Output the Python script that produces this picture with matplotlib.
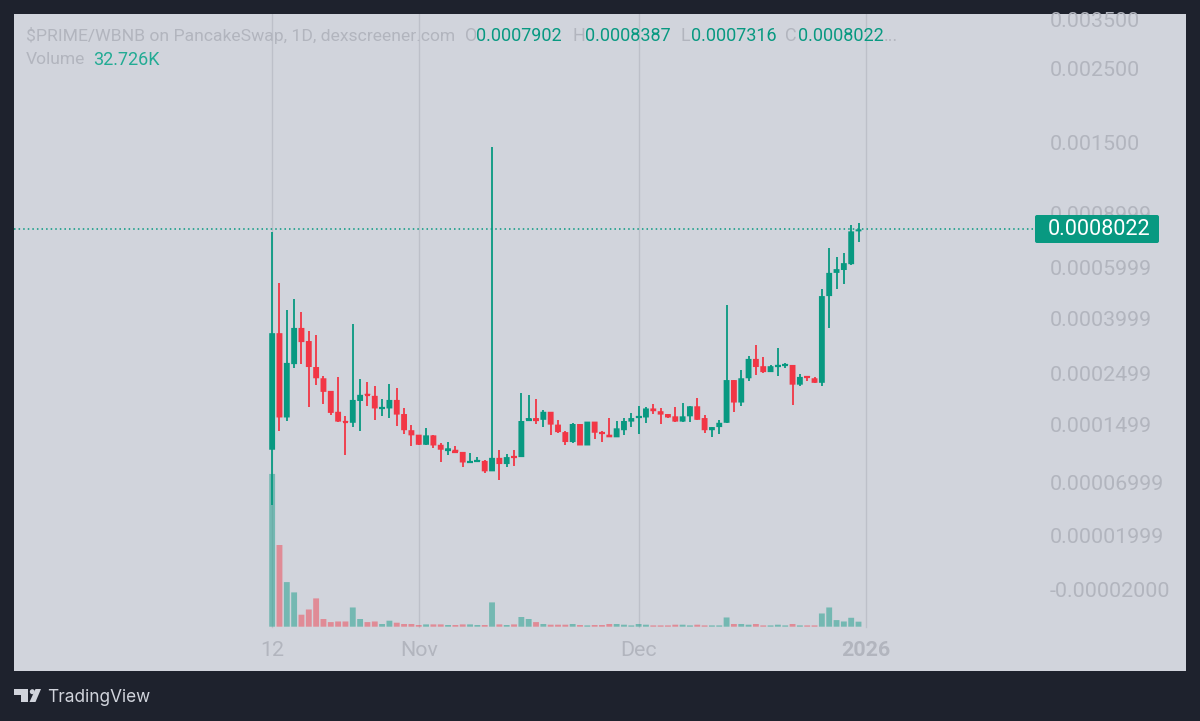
import numpy as np
import matplotlib
matplotlib.use("Agg")
import matplotlib.pyplot as plt
from matplotlib.patches import FancyBboxPatch, Polygon, Circle
from matplotlib.transforms import IdentityTransform

# prices in millionths
highs = [785,533,430,470,423,361,350,243,211,241,163,383,236,230,222,195,226,218,177,149,133,143,133,120,122,116,108,106,101,97,1452,110,105,111,207,203,195,174,171,157,139,152,150,154,154,139,160,155,160,169,182,179,186,177,167,179,188,181,197,166,145,157,448,234,257,291,321,289,269,313,274,269,247,243,241,508,697,652,672,828,838.7]
tops = [355,355,274,371,371,332,264,238,211,171,155,193,203,205,201,179,193,193,167,140,133,132,132,118,113,111,108,95,97,96,100,100,101,102,155,160,160,171,171,149,137,150,150,154,154,137,133,143,155,160,163,177,177,172,167,163,163,181,181,160,145,152,234,234,238,284,284,266,266,269,271,269,241,243,238,481,577,594,622,790.2,802.2]
bots = [111,161,161,271,329,264,238,209,169,154,154,152,191,203,177,177,177,166,140,132,118,118,117,111,111,108,94,94,96,83,83,92,92,101,101,157,157,157,149,137,122,122,117,117,136,136,129,129,140,154,161,161,172,166,161,154,154,163,157,140,140,145,152,188,188,238,264,252,252,266,269,224,224,241,228,228,481,577,590,617,790.2]
lows = [47,139,155,261,271,179,224,186,166,154,104,145,139,181,157,163,160,146,134,116,118,118,114,95,104,106,88,93,94,81,83,73,88,89,101,155,150,145,132,136,117,121,117,117,127,122,129,129,133,145,134,152,167,150,160,154,154,154,157,136,130,134,152,171,182,232,245,250,252,243,261,184,222,232,228,222,371,508,529,613,731.6]
rising = [1,0,1,1,0,0,0,0,0,0,0,1,1,0,0,1,1,0,0,0,0,1,0,0,1,0,0,1,1,0,1,0,1,0,1,1,0,1,0,0,0,1,0,1,0,0,0,1,1,1,1,1,0,0,0,0,1,1,0,0,1,1,1,0,1,1,0,0,1,1,1,0,1,0,0,1,1,1,1,1,1]
volume_k = [993,531,290,223,78,112,184,50,30,34,34,125,50,30,34,17.5,39,26,17.5,17.5,11,15,15,15,11,11,15,15,11,11,158,15,11,15,63,50,30,17.5,13,13,13,17.5,11,8.5,11,11,17.5,17.5,13,8.5,17.5,13,8.5,8.5,8.5,13,13,8.5,13,8.5,8.5,8.5,60,17.5,17.5,13,17.5,8.5,8.5,13,8.5,17.5,8.5,8.5,8.5,86,125,43,34,58,32.7]
last_price = 0.0008022
price_tick_values = [0.0035,0.0025,0.0015,0.0008999,0.0005999,0.0003999,0.0002499,0.0001499,0.00006999,0.00001999,-0.0000163]
price_tick_labels = ["0.003500","0.002500","0.001500","0.0008999","0.0005999","0.0003999","0.0002499","0.0001499","0.00006999","0.00001999","-0.00002000"]
date_ticks = [0,20,50,81]
date_labels = ["12","Nov","Dec","2026"]

GREEN, RED = "#089981", "#F23645"
BG, PANEL = "#1E222D", "#D1D4DC"
GREY = "#B2B5BE"
GRID = "#BDC0C9"
plt.rcParams['font.family'] = ['Roboto', 'DejaVu Sans']

W, H = 1200, 721
fig = plt.figure(figsize=(12, 7.21), dpi=100, facecolor=BG)
L, R, T, B = 14, 1186, 14, 671
rect = [L/W, (H-B)/H, (R-L)/W, (B-T)/H]
vax = fig.add_axes(rect, facecolor=PANEL)
ax = fig.add_axes(rect, facecolor="none")

n = len(highs)
x = np.arange(n)
hi, lo = np.array(highs)*1e-6, np.array(lows)*1e-6
tp, bt = np.array(tops)*1e-6, np.array(bots)*1e-6
up = np.array(rising, dtype=bool)
colors = np.where(up, GREEN, RED)
xlim = (-35.22, 124.68)

# volume pane
vax.set_xlim(xlim)
vax.set_ylim(-(B-626.7)*6.5, (626.7-T)*6.5)
vax.bar(x, volume_k, width=0.8, color=colors, alpha=0.46, linewidth=0, zorder=2, snap=False)
for d in date_ticks:
    vax.axvline(d, ymin=(B-627)/(B-T), color=GRID, lw=1.0, zorder=1)
vax.set_xticks([]); vax.set_yticks([])
for s in vax.spines.values():
    s.set_visible(False)

# price pane
C = 1e-4
ax.set_yscale("function", functions=(lambda v: np.log(np.maximum(v+C, 1e-9)), lambda u: np.exp(u)-C))
ax.set_xlim(xlim)
ax.set_ylim(-50.93e-6, 3630.6e-6)
ax.vlines(x, lo, hi, colors=colors, lw=1.3, zorder=3)
ax.bar(x, tp-bt, bottom=bt, width=0.8, color=colors, linewidth=0, zorder=4, snap=False)
thin = (tp-bt) < 4e-6
ax.hlines(bt[thin], x[thin]-0.4, x[thin]+0.4, colors=colors[thin], lw=1.6, zorder=4)
ax.axhline(last_price, xmax=(1036-L)/(R-L), color=GREEN, lw=1.1, ls=(0, (1, 2)), zorder=2)

ax.yaxis.tick_right()
ax.set_yticks(price_tick_values, price_tick_labels)
ax.minorticks_off()
ax.tick_params(axis="y", length=0, pad=-98, labelsize=15.4, labelcolor=GREY)
ax.set_xticks(date_ticks, date_labels)
ax.tick_params(axis="x", length=0, pad=-21.5, labelsize=15.4, labelcolor=GREY)
ax.get_xticklabels()[-1].set_fontweight("bold")
for s in ax.spines.values():
    s.set_visible(False)

# last price label
fig.add_artist(FancyBboxPatch((1035, H-243), 124, 28, boxstyle="round,pad=0,rounding_size=2",
                              fc=GREEN, ec="none", transform=IdentityTransform(), zorder=5))
fig.text(1048/W, (H-229.5)/H, "0.0008022", color="white", fontsize=15.6, va="center", ha="left", zorder=6)

# legend
def t(xp, yp, s, c, size=13.0):
    fig.text(xp/W, (H-yp)/H, s, color=c, fontsize=size, va="center", ha="left", zorder=6)
t(26, 36, "$PRIME/WBNB on PancakeSwap, 1D, dexscreener.com", GREY, 12.6)
for xl, xv, lab, val in [(465, 476, "O", "0.0007902"), (572, 585, "H", "0.0008387"),
                         (681, 691, "L", "0.0007316"), (785, 798, "C", "0.0008022")]:
    t(xl, 36, lab, GREY)
    t(xv, 36, val, GREEN)
t(884, 36, "...", GREY)
t(26, 60, "Volume", GREY, 12.6)
t(93, 60, "32.726K", "#22AB94")

# logo
logo = "#D1D4DC"
pts = [[(14, 689), (28, 689), (28, 702), (21, 702), (21, 695), (14, 695)],
       [(35.5, 689), (41, 689), (35.5, 702), (29.5, 702)]]
for p in pts:
    fig.add_artist(Polygon([(a, H-b) for a, b in p], closed=True, fc=logo, ec="none", transform=IdentityTransform(), zorder=6))
fig.add_artist(Circle((32.3, H-691.7), 2.5, fc=logo, ec="none", transform=IdentityTransform(), zorder=6))
fig.text(47/W, (H-698)/H, "TradingView", color=logo, fontsize=12.4, family=["Inter", "DejaVu Sans"], va="center", ha="left")

fig.savefig("out.png", dpi=100, facecolor=BG)
